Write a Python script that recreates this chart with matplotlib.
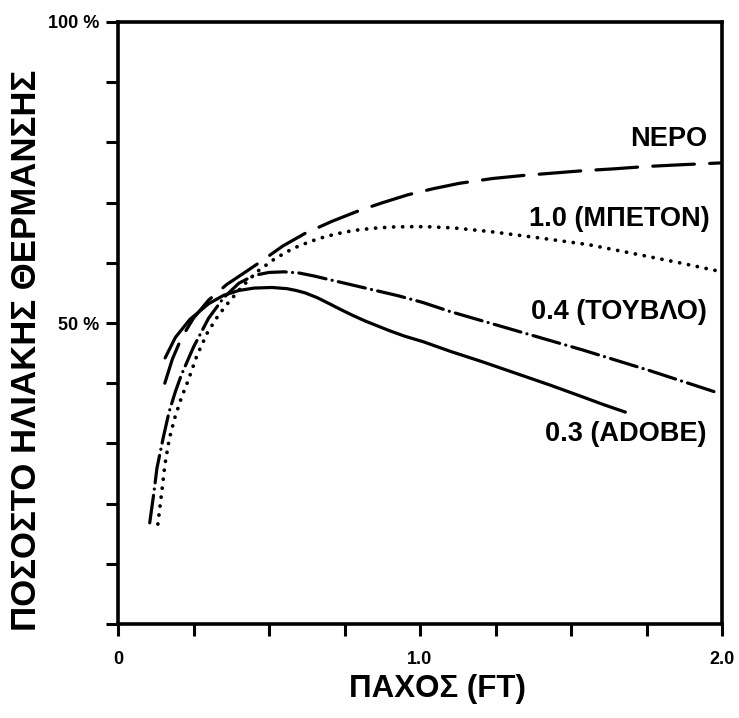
import matplotlib
matplotlib.use("Agg")
import matplotlib.pyplot as plt

plt.rcParams["font.family"] = ["Liberation Sans", "DejaVu Sans"]
plt.rcParams["lines.scale_dashes"] = False

# thickness (ft) vs. solar heating fraction (%)
nero_x = [0.155, 0.18, 0.21, 0.25, 0.30, 0.36, 0.42, 0.47, 0.546, 0.62, 0.709, 0.80, 0.877, 0.96, 1.043, 1.13, 1.24, 1.34, 1.44, 1.54, 1.64, 1.75, 1.87, 2.0]
nero_y = [40.0, 44.0, 47.5, 50.8, 53.8, 56.4, 58.4, 60.1, 62.8, 64.9, 66.9, 68.7, 70.0, 71.3, 72.3, 73.2, 74.0, 74.5, 74.9, 75.3, 75.6, 76.0, 76.3, 76.6]

beton_x = [0.132, 0.145, 0.156, 0.17, 0.189, 0.21, 0.232, 0.26, 0.295, 0.33, 0.364, 0.41, 0.46, 0.52, 0.58, 0.64, 0.69, 0.75, 0.80, 0.86, 0.91, 0.96, 1.02, 1.11, 1.23, 1.40, 1.56, 1.70, 1.85, 2.0]
beton_y = [16.6, 22.0, 26.7, 30.8, 34.4, 37.6, 40.4, 44.4, 48.3, 51.1, 53.3, 56.0, 58.5, 60.7, 62.4, 63.6, 64.4, 65.1, 65.5, 65.8, 65.95, 66.0, 66.0, 65.8, 65.2, 64.1, 63.0, 61.6, 60.1, 58.5]

touvlo_x = [0.105, 0.118, 0.129, 0.15, 0.169, 0.19, 0.21, 0.25, 0.30, 0.35, 0.40, 0.45, 0.50, 0.55, 0.60, 0.65, 0.70, 0.76, 0.845, 0.93, 1.01, 1.10, 1.21, 1.32, 1.43, 1.54, 1.65, 1.76, 1.87, 1.98]
touvlo_y = [16.8, 21.5, 25.9, 31.0, 35.2, 38.6, 41.4, 46.0, 50.8, 54.2, 56.6, 57.9, 58.4, 58.5, 58.3, 57.8, 57.2, 56.5, 55.5, 54.5, 53.4, 51.9, 50.3, 48.7, 47.1, 45.5, 43.8, 42.1, 40.3, 38.5]

adobe_x = [0.156, 0.19, 0.238, 0.30, 0.35, 0.40, 0.45, 0.51, 0.56, 0.59, 0.62, 0.66, 0.70, 0.735, 0.78, 0.82, 0.86, 0.90, 0.95, 1.01, 1.10, 1.21, 1.32, 1.43, 1.54, 1.61, 1.68]
adobe_y = [44.2, 47.6, 50.6, 53.2, 54.6, 55.4, 55.8, 55.9, 55.7, 55.4, 55.0, 54.2, 53.2, 52.3, 51.2, 50.3, 49.5, 48.7, 47.8, 46.9, 45.3, 43.5, 41.6, 39.7, 37.7, 36.4, 35.2]

x_ticks = [0, 0.25, 0.5, 0.75, 1.0, 1.25, 1.5, 1.75, 2.0]
x_tick_labels = ["0", "", "", "", "1.0", "", "", "", "2.0"]
y_ticks = [0, 10, 20, 30, 40, 50, 60, 70, 80, 90, 100]
y_tick_labels = ["", "", "", "", "", "50 %", "", "", "", "", "100 %"]

fig = plt.figure(figsize=(7.39, 7.18), dpi=100)
ax = fig.add_axes([118 / 739, 94 / 718, 604 / 739, 602 / 718])

LW = 2.3
ax.plot(nero_x, nero_y, color="black", lw=LW, dashes=(30, 11), dash_capstyle="round", solid_capstyle="round")
ax.plot(beton_x, beton_y, color="black", lw=2.7, dashes=(0.1, 6.4), dash_capstyle="round")
ax.plot(touvlo_x, touvlo_y, color="black", lw=LW, dashes=(20, 4.5, 0.1, 4.5), dash_capstyle="round")
ax.plot(adobe_x, adobe_y, color="black", lw=LW, solid_capstyle="round")

ax.set_xlim(0, 2.0)
ax.set_ylim(0, 100)
ax.set_xticks(x_ticks)
ax.set_xticklabels(x_tick_labels, fontsize=13, fontweight="bold")
ax.set_yticks(y_ticks)
ax.set_yticklabels(y_tick_labels, fontsize=13, fontweight="bold")
ax.tick_params(direction="out", length=8.6, width=2.2)
ax.tick_params(axis="x", pad=11)
ax.tick_params(axis="y", pad=5)
for sp in ax.spines.values():
    sp.set_linewidth(2.6)

label_kw = dict(ha="right", va="center", fontsize=19.5, fontweight="bold", transform=ax.transData)
ax.text(1.95, 80.5, "ΝΕΡΟ", **label_kw)
ax.text(1.96, 67.2, "1.0 (ΜΠΕΤΟΝ)", **label_kw)
ax.text(1.95, 51.9, "0.4 (ΤΟΥΒΛΟ)", **label_kw)
ax.text(1.95, 31.5, "0.3 (ADOBE)", **label_kw)

fig.text(27 / 739, 1 - 350 / 718, "ΠΟΣΟΣΤΟ ΗΛΙΑΚΗΣ ΘΕΡΜΑΝΣΗΣ", rotation=90,
         ha="center", va="center", fontsize=25, fontweight="bold")
fig.text(437 / 739, 1 - 689 / 718, "ΠΑΧΟΣ (FT)", ha="center", va="center",
         fontsize=22.5, fontweight="bold")

fig.savefig("out.png", dpi=100, facecolor="white")
